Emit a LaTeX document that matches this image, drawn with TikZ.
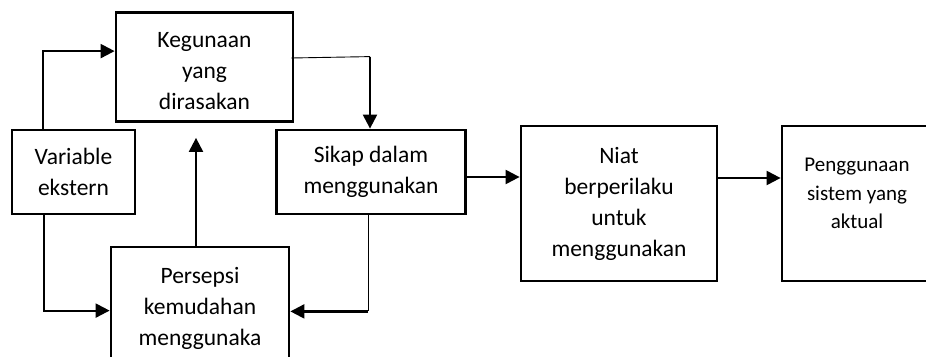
\documentclass[tikz,border=0pt]{standalone}
\usepackage{fontspec}
\setmainfont{Carlito}
\usetikzlibrary{arrows.meta,calc}
\begin{document}
\begin{tikzpicture}[x=1pt,y=-1pt,
  box/.style={draw, line width=2.8pt, align=center, inner sep=0pt,
    font=\fontsize{23.5}{31}\selectfont},
  flow/.style={line width=2.2pt, -{Triangle[length=14pt,width=14pt]}},
  feed/.style={line width=0.9pt}]
\useasboundingbox (0,0) rectangle (926,356);
\clip (0,0) rectangle (926,356);

% boxes of the model
\node[box, minimum width=177pt, minimum height=109pt] (keg) at (204.5,67)
  {\rule{0pt}{23pt}Kegunaan\\yang\\dirasakan};
\node[box, minimum width=123pt, minimum height=84pt] (var) at (73.5,172)
  {Variable\\ekstern};
\node[box, minimum width=189pt, minimum height=84pt] (sik) at (371,172)
  {Sikap dalam\\menggunakan};
\node[box, minimum width=178pt, minimum height=122pt] (per) at (200,308)
  {Persepsi\\kemudahan\\menggunaka};
\node[box, minimum width=196pt, minimum height=155pt] (niat) at (619,203.5)
  {Niat\\berperilaku\\untuk\\menggunakan};
\node[box, minimum width=150pt, minimum height=155pt, text depth=20pt,
  font=\fontsize{21}{28.5}\selectfont] (pgn) at (857,203.5)
  {Penggunaan\\sistem yang\\aktual};

% connectors
\draw[flow] ($(var.north west)+(32,0)$) |- ($(keg.north west)+(0,40)$);
\draw[flow] ($(var.south west)+(33,0)$) |- ($(per.north west)+(0,65)$);

\coordinate (kegin) at ($(keg.south)+(-8.5,15)$);
\draw[flow] (per.north -| kegin) -- (kegin);

\coordinate (ks) at ($(sik.north)+(-1,-72)$);
\draw[feed] ($(keg.east)+(-3,-9)$) -- (ks);
\draw[flow] (ks) -- (ks |- sik.north);

\coordinate (sp) at ($(sik.south)+(-3,96)$);
\draw[feed] (sik.south -| sp) -- (sp);
\draw[flow] (sp) -- (sp -| per.east);

\draw[flow] ($(sik.east)+(0,5)$) -- ($(niat.west |- sik.east)+(0,5)$);
\draw[flow] ($(niat.east)+(0,-25.5)$) -- ($(pgn.west)+(0,-25.5)$);
\end{tikzpicture}
\end{document}
